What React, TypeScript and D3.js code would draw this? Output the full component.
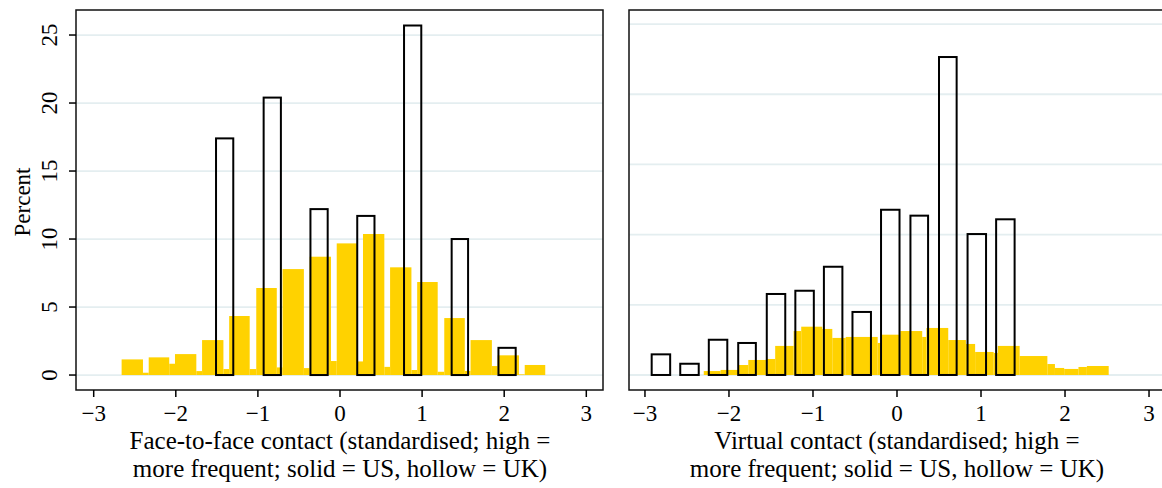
import React from "react";
import * as d3 from "d3";

const xTicks = [-3, -2, -1, 0, 1, 2, 3];
const yTicks = [0, 5, 10, 15, 20, 25];

// face-to-face contact, US (solid): [from, to, percent]
const faceUS: [number, number, number][] = [
  [-2.66, -2.4, 1.15], [-2.4, -2.33, 0.17], [-2.33, -2.08, 1.3], [-2.08, -2.01, 0.83],
  [-2.01, -1.75, 1.54], [-1.75, -1.68, 0.29], [-1.68, -1.42, 2.57], [-1.42, -1.35, 0.44],
  [-1.35, -1.1, 4.34], [-1.1, -1.02, 0.44], [-1.02, -0.77, 6.4], [-0.77, -0.7, 0.56],
  [-0.7, -0.44, 7.79], [-0.44, -0.37, 0.51], [-0.37, -0.11, 8.7], [-0.11, -0.04, 1.03],
  [-0.04, 0.21, 9.68], [0.21, 0.28, 1.0], [0.28, 0.54, 10.37], [0.54, 0.61, 0.6],
  [0.61, 0.87, 7.92], [0.87, 0.94, 0.37], [0.94, 1.19, 6.84], [1.19, 1.27, 0.24],
  [1.27, 1.52, 4.19], [1.52, 1.59, 0.3], [1.59, 1.85, 2.57], [1.85, 1.92, 0.66],
  [1.92, 2.18, 1.45], [2.18, 2.25, 0.05], [2.25, 2.5, 0.74],
];

// face-to-face contact, UK (hollow)
const faceUK: [number, number, number][] = [
  [-1.51, -1.3, 17.4], [-0.93, -0.72, 20.4], [-0.36, -0.15, 12.2], [0.21, 0.42, 11.7],
  [0.78, 0.99, 25.7], [1.36, 1.56, 10.0], [1.93, 2.14, 2.0],
];

// virtual contact, US (solid)
const virtualUS: [number, number, number][] = [
  [-2.3, -2.1, 0.28], [-2.1, -1.89, 0.36], [-1.89, -1.77, 0.71], [-1.77, -1.56, 1.07],
  [-1.56, -1.45, 1.14], [-1.45, -1.23, 2.07], [-1.23, -1.14, 3.13], [-1.14, -0.89, 3.44],
  [-0.89, -0.77, 3.28], [-0.77, -0.61, 2.64], [-0.61, -0.23, 2.71], [-0.23, -0.19, 2.28],
  [-0.19, 0.04, 2.87], [0.04, 0.3, 3.13], [0.3, 0.35, 2.71], [0.35, 0.61, 3.35],
  [0.61, 0.82, 2.49], [0.82, 0.93, 2.21], [0.93, 1.15, 1.64], [1.15, 1.2, 1.57],
  [1.2, 1.46, 2.07], [1.46, 1.79, 1.35], [1.79, 1.88, 0.78], [1.88, 1.99, 0.5],
  [1.99, 2.16, 0.43], [2.16, 2.26, 0.57], [2.26, 2.52, 0.64],
];

// virtual contact, UK (hollow)
const virtualUK: [number, number, number][] = [
  [-2.92, -2.7, 1.47], [-2.58, -2.36, 0.8], [-2.24, -2.02, 2.51], [-1.89, -1.68, 2.28],
  [-1.55, -1.33, 5.77], [-1.21, -0.99, 6.0], [-0.87, -0.65, 7.71], [-0.53, -0.31, 4.49],
  [-0.19, 0.03, 11.77], [0.16, 0.37, 11.35], [0.5, 0.71, 22.65], [0.84, 1.06, 10.04],
  [1.18, 1.4, 11.09],
];

const YELLOW = "#FFD200";
const GRID = "#E4EEF0";
const FONT = "'Liberation Serif', 'Times New Roman', serif";

type PanelProps = {
  x0: number; x1: number; xDomain: [number, number];
  yDomain: [number, number];
  solid: [number, number, number][];
  hollow: [number, number, number][];
  title: [string, string];
  yLabels: boolean;
};

const TOP = 10;
const BOTTOM = 390;

const Panel = ({ x0, x1, xDomain, yDomain, solid, hollow, title, yLabels }: PanelProps) => {
  const x = d3.scaleLinear().domain(xDomain).range([x0, x1]);
  const y = d3.scaleLinear().domain(yDomain).range([BOTTOM, TOP]);
  const cx = x(0);
  return (
    <g>
      {yTicks.map(t => (
        <line key={"g" + t} x1={x0} x2={x1} y1={y(t)} y2={y(t)} stroke={GRID} strokeWidth={1.8} />
      ))}
      {solid.map((d, i) => (
        <rect key={"s" + i} x={x(d[0])} width={x(d[1]) - x(d[0])} y={y(d[2])} height={y(0) - y(d[2])} fill={YELLOW} />
      ))}
      {hollow.map((d, i) => (
        <rect key={"h" + i} x={x(d[0])} width={x(d[1]) - x(d[0])} y={y(d[2])} height={y(0) - y(d[2])}
          fill="none" stroke="#000" strokeWidth={2} />
      ))}
      <rect x={x0} y={TOP} width={x1 - x0} height={BOTTOM - TOP} fill="none" stroke="#111" strokeWidth={1.5} />
      {xTicks.map(t => (
        <g key={"x" + t}>
          <line x1={x(t)} x2={x(t)} y1={BOTTOM} y2={BOTTOM + 7} stroke="#000" strokeWidth={1.5} />
          <text x={x(t)} y={421} textAnchor="middle" fontSize={23} fontFamily={FONT}>
            {t < 0 ? "\u2212" + Math.abs(t) : String(t)}
          </text>
        </g>
      ))}
      {yLabels && yTicks.map(t => (
        <g key={"y" + t}>
          <line x1={x0 - 7} x2={x0} y1={y(t)} y2={y(t)} stroke="#000" strokeWidth={1.5} />
          <text transform={`translate(57,${y(t)}) rotate(-90)`} textAnchor="middle" fontSize={23} fontFamily={FONT}>
            {t}
          </text>
        </g>
      ))}
      <text x={cx} y={449} textAnchor="middle" fontSize={25} fontFamily={FONT}>{title[0]}</text>
      <text x={cx} y={477} textAnchor="middle" fontSize={25} fontFamily={FONT}>{title[1]}</text>
    </g>
  );
};

export default function App() {
  return (
    <svg width={1162} height={488} style={{ position: "absolute", left: 0, top: 0, background: "#fff" }}>
      <rect width={1162} height={488} fill="#fff" />
      <text transform="translate(30,202) rotate(-90)" textAnchor="middle" fontSize={23} fontFamily={FONT}>Percent</text>
      <Panel x0={76} x1={603} xDomain={[-3.2156, 3.2034]} yDomain={[-1.1, 26.84]}
        solid={faceUS} hollow={faceUK} yLabels={true}
        title={["Face-to-face contact (standardised; high =", "more frequent; solid = US, hollow = UK)"]} />
      <Panel x0={629} x1={1166} xDomain={[-3.19, 3.202]} yDomain={[-1.07, 26.0]}
        solid={virtualUS} hollow={virtualUK} yLabels={false}
        title={["Virtual contact (standardised; high =", "more frequent; solid = US, hollow = UK)"]} />
    </svg>
  );
}
